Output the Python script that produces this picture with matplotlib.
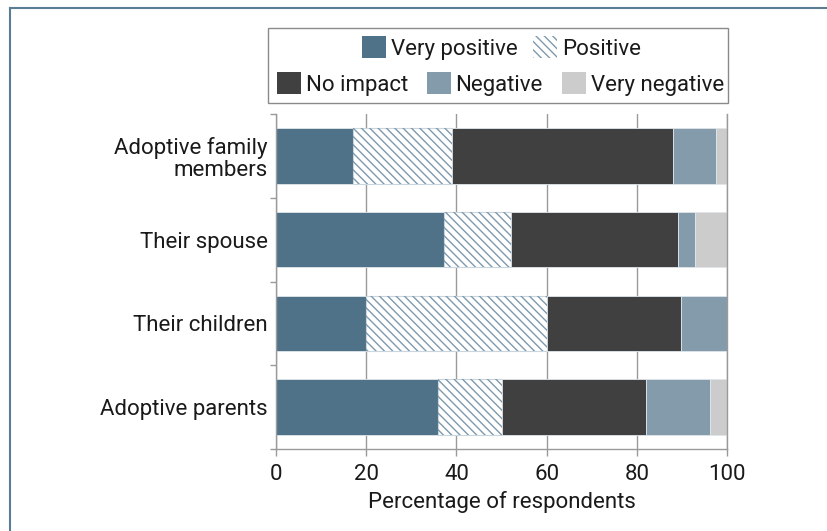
import matplotlib
matplotlib.use("Agg")
import matplotlib.pyplot as plt
from matplotlib import font_manager
from matplotlib.patches import Rectangle, Patch
from matplotlib.lines import Line2D
import numpy as np

# ---- data ----
categories = ["Adoptive parents", "Their children", "Their spouse", "Adoptive family\nmembers"]
series_names = ["Very positive", "Positive", "No impact", "Negative", "Very negative"]
very_positive = [36.0, 20.0, 37.2, 17.0]
positive = [14.2, 40.2, 14.8, 22.0]
no_impact = [31.9, 29.7, 37.2, 49.1]
negative = [14.2, 10.1, 3.6, 9.5]
very_negative = [3.7, 0.0, 7.2, 2.4]
xticks = [0, 20, 40, 60, 80, 100]
xlabel = "Percentage of respondents"

# ---- font ----
fam = "DejaVu Sans"
for f in ["Liberation Sans Narrow", "Roboto", "Open Sans"]:
    try:
        font_manager.findfont(f, fallback_to_default=False)
        fam = f
        break
    except Exception:
        pass
plt.rcParams["font.family"] = [fam, "DejaVu Sans"]
plt.rcParams["hatch.linewidth"] = 1.0

C_VP = "#4f7288"
C_P_HATCH = "#7e9aac"
C_NI = "#404040"
C_NEG = "#849bab"
C_VN = "#cccccc"
GRID = "#9a9a9a"
TXT = "#1a1a1a"
FS = 16

fig = plt.figure(figsize=(8.27, 5.31), dpi=100)
ax = fig.add_axes([0.3337, 0.1544, 0.5454, 0.6309])

y = np.arange(len(categories))
h = 0.66
series = [very_positive, positive, no_impact, negative, very_negative]
left = np.zeros(len(categories))
handles = []
HATCH = "\\\\\\\\"
for name, vals in zip(series_names, series):
    vals = np.array(vals)
    if name == "Positive":
        ax.barh(y, vals, left=left, height=h, color="white", edgecolor="#c9d6df",
                linewidth=0.8, zorder=2)
        ax.barh(y, vals, left=left, height=h, color="none", edgecolor=C_P_HATCH,
                hatch=HATCH, linewidth=0, zorder=3)
        handles.append(Patch(facecolor="white", edgecolor=C_P_HATCH, hatch=HATCH, linewidth=0))
    else:
        col = {"Very positive": C_VP, "No impact": C_NI, "Negative": C_NEG,
               "Very negative": C_VN}[name]
        ax.barh(y, vals, left=left, height=h, color=col, edgecolor="#dfe6ea",
                linewidth=0.6, zorder=2)
        handles.append(Patch(facecolor=col, edgecolor="none"))
    left = left + vals

ax.set_xlim(0, 100)
ax.set_ylim(-0.5, len(categories) - 0.5)
ax.set_xticks(xticks)
ax.set_xticklabels([str(t) for t in xticks], fontsize=FS, color=TXT)
ax.set_yticks(y)
ax.set_yticklabels(categories, fontsize=FS, color=TXT, ha="right",
                   linespacing=1.05)
ax.set_yticks(np.arange(-0.5, len(categories), 1.0), minor=True)
ax.tick_params(axis="y", which="major", length=0, pad=6)
ax.tick_params(axis="y", which="minor", length=4, width=1, color=GRID)
ax.tick_params(axis="x", which="major", length=5, width=1, color=GRID, pad=6)
ax.set_xlabel(xlabel, fontsize=FS, color=TXT, labelpad=4)
ax.xaxis.grid(True, color=GRID, linewidth=1.0, zorder=0)
ax.set_axisbelow(True)
for s in ["left", "bottom", "right"]:
    ax.spines[s].set_color(GRID)
    ax.spines[s].set_linewidth(1.0)
ax.spines["top"].set_visible(False)

# ---- legend (two centred rows inside one frame) ----
fig.patches.append(Rectangle((0.324, 0.806), 0.556, 0.141, transform=fig.transFigure,
                             facecolor="white", edgecolor="#8a8a8a", linewidth=1.0))
common = dict(frameon=False, fontsize=FS, handlelength=1.1, handleheight=1.1,
              handletextpad=0.2, borderpad=0, labelcolor=TXT)
leg1 = fig.legend(handles[:2], series_names[:2], ncol=2, loc="center",
                  bbox_to_anchor=(0.606, 0.9096), columnspacing=0.7, **common)
leg2 = fig.legend(handles[2:], series_names[2:], ncol=3, loc="center",
                  bbox_to_anchor=(0.605, 0.842), columnspacing=0.85, **common)

# ---- outer frame (left and top edges) ----
fig.add_artist(Line2D([0.0115, 0.0115], [0, 1 - 8 / 531], transform=fig.transFigure,
                      color="#5a7d93", linewidth=1.5))
fig.add_artist(Line2D([0.0115, 1], [1 - 8 / 531, 1 - 8 / 531], transform=fig.transFigure,
                      color="#5a7d93", linewidth=1.5))

fig.savefig("out.png", dpi=100)
